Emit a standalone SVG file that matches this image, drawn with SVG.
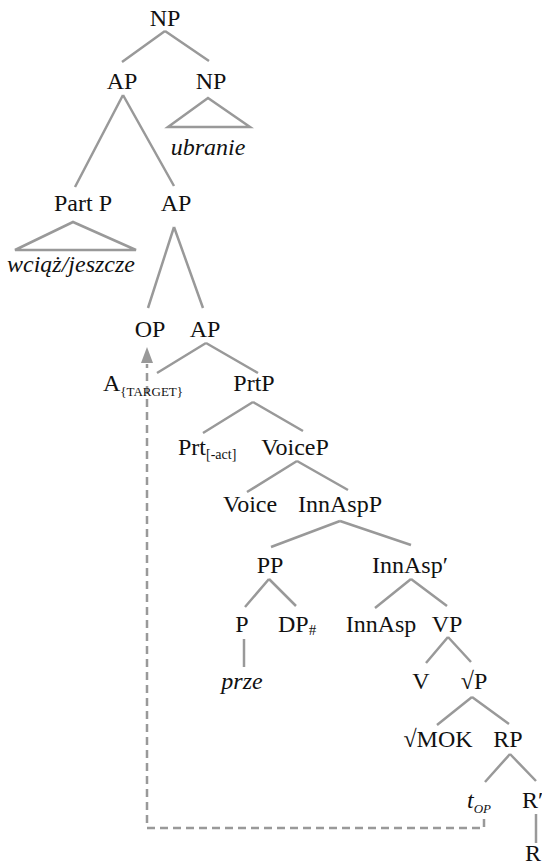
<svg xmlns="http://www.w3.org/2000/svg" width="542" height="866" viewBox="0 0 542 866">
<style>
text{font-family:"Liberation Serif","Times New Roman",serif;font-size:24px;fill:#111}
.m{text-anchor:middle}
.i{font-style:italic}
.sub{font-size:13px}
.e{stroke:#999;stroke-width:2.5;fill:none;stroke-linecap:butt}
.d{stroke:#999;stroke-width:2.5;fill:none;stroke-dasharray:8,5}
</style>
<rect width="542" height="866" fill="#fff"/>
<g id="connectors">
<path class="e" d="M165,31 L122,62 M165,31 L209,61"/>
<path class="e" d="M208,98 L168,127 L250,127 Z"/>
<path class="e" d="M123,95 L75,187 M123,95 L174,186"/>
<path class="e" d="M73,222 L15,250 L136,250 Z"/>
<path class="e" d="M174,227 L148,308 M174,227 L203,308"/>
<path class="e" d="M206,343 L157,373 M206,343 L258,373"/>
<path class="e" d="M253,402 L203,433 M253,402 L303,431"/>
<path class="e" d="M297,461 L247,492 M297,461 L348,490"/>
<path class="e" d="M340,521 L271,547 M340,521 L411,545"/>
<path class="e" d="M269,579 L245,607 M269,579 L296,606"/>
<path class="e" d="M411,579 L375,608 M411,579 L447,606"/>
<path class="e" d="M244,639 L244,667"/>
<path class="e" d="M448,637 L426,663 M448,637 L471,662"/>
<path class="e" d="M472,697 L437,725 M472,697 L509,724"/>
<path class="e" d="M510,754 L485,782 M510,754 L536,781"/>
<path class="e" d="M536,814 L536,843"/>
<path class="d" d="M484,819 V828 H147 V364"/>
<polygon points="147,347 141,363 153,363" fill="#999"/>
</g>
<g id="n1"><text class="m" x="165" y="26">NP</text></g>
<g id="n2"><text class="m" x="122" y="89">AP</text></g>
<g id="n3"><text class="m" x="211" y="89">NP</text></g>
<g id="n4"><text class="m i" x="208" y="155">ubranie</text></g>
<g id="n5"><text class="m" x="83" y="211">Part P</text></g>
<g id="n6"><text class="m" x="176" y="211">AP</text></g>
<g id="n7"><text class="m i" x="71" y="272">wciąż/jeszcze</text></g>
<g id="n8"><text class="m" x="150" y="337">OP</text></g>
<g id="n9"><text class="m" x="205" y="337">AP</text></g>
<g id="n10"><text x="103" y="391">A<tspan class="sub" dy="5">{TARGET}</tspan></text></g>
<g id="n11"><text class="m" x="254" y="391">PrtP</text></g>
<g id="n12"><text x="178" y="455">Prt<tspan font-size="14" dy="4">[-act]</tspan></text></g>
<g id="n13"><text class="m" x="295" y="455">VoiceP</text></g>
<g id="n14"><text class="m" x="250" y="512">Voice</text></g>
<g id="n15"><text class="m" x="340" y="512">InnAspP</text></g>
<g id="n16"><text class="m" x="270" y="573">PP</text></g>
<g id="n17"><text x="372" y="573">InnAsp′</text></g>
<g id="n18"><text class="m" x="242" y="632">P</text></g>
<g id="n19"><text x="278" y="632">DP<tspan font-size="15" dy="3">#</tspan></text></g>
<g id="n20"><text class="m" x="381" y="632">InnAsp</text></g>
<g id="n21"><text class="m" x="447" y="632">VP</text></g>
<g id="n22"><text class="m i" x="242" y="689">prze</text></g>
<g id="n23"><text class="m" x="421" y="689">V</text></g>
<g id="n24"><text class="m" x="474" y="689">√P</text></g>
<g id="n25"><text class="m" x="438" y="747">√MOK</text></g>
<g id="n26"><text class="m" x="508" y="747">RP</text></g>
<g id="n27"><text class="i" x="467" y="808">t<tspan font-size="13" dy="5">OP</tspan></text></g>
<g id="n28"><text x="522" y="808">R′</text></g>
<g id="n29"><text class="m" x="533" y="861">R</text></g>
</svg>
